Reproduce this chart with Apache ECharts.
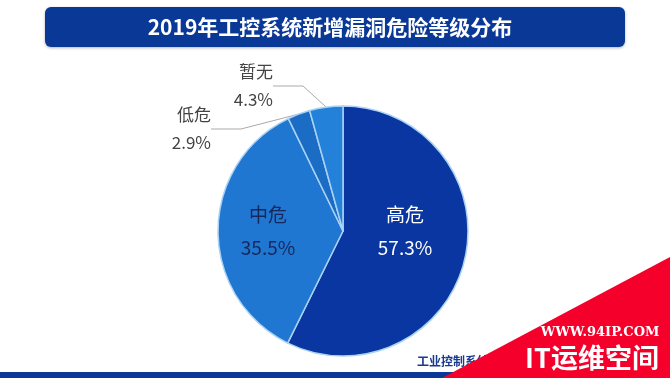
<!DOCTYPE html>
<html>
<head>
<meta charset="utf-8">
<script src="https://cdn.jsdelivr.net/npm/echarts@6/dist/echarts.min.js"></script>
<style>
  html, body { margin: 0; padding: 0; background: #fff; }
  #main { width: 670px; height: 378px; }
</style>
</head>
<body>
<div id="main"></div>
<script>
// 2019年工控系统新增漏洞危险等级分布
var levels = ['高危', '中危', '低危', '暂无'];
var shares = [57.3, 35.5, 2.9, 4.3];
var sliceColors = ['#0936a0', '#1f77d2', '#1b6cc4', '#2381d9'];

var chart = echarts.init(document.getElementById('main'));
var font = '"Noto Sans CJK SC", sans-serif';

var pieData = levels.map(function (name, i) {
    var item = { name: name, value: shares[i], itemStyle: { color: sliceColors[i] } };
    if (i == 0) {
        item.label = { position: 'inside', color: '#fff', fontSize: 19, lineHeight: 33 };
    } else if (i == 1) {
        item.label = { position: 'inside', color: '#16275a', fontSize: 19, lineHeight: 33 };
    } else {
        item.label = { position: 'outside', color: '#444', align: 'center', fontSize: 17, lineHeight: 28 };
    }
    return item;
});

var option = {
    backgroundColor: '#fff',
    graphic: [
        {
            type: 'rect',
            shape: { x: 45, y: 7, width: 580, height: 40, r: 6 },
            style: { fill: '#0a3896', shadowBlur: 3, shadowColor: 'rgba(0,0,0,0.3)', shadowOffsetY: 1 }
        },
        {
            type: 'text', x: 330, y: 27,
            style: { text: '2019年工控系统新增漏洞危险等级分布', fill: '#fff', font: 'bold 21px ' + font, align: 'center', verticalAlign: 'middle' }
        },
        {
            type: 'rect',
            shape: { x: 0, y: 372, width: 670, height: 6 },
            style: { fill: '#0a3896' }
        },
        {
            type: 'text', x: 417, y: 361,
            style: { text: '工业控制系统安全', fill: '#1a3a8c', font: 'bold 12px ' + font, verticalAlign: 'middle' }
        },
        {
            type: 'polygon',
            shape: { points: [[670, 257], [670, 378], [442, 378]] },
            style: { fill: '#f5002a' }
        },
        {
            type: 'text', x: 600, y: 333,
            style: { text: 'WWW.94IP.COM', fill: '#fff', font: 'bold 13px "DejaVu Serif", serif', align: 'center', verticalAlign: 'middle' }
        },
        {
            type: 'text', x: 592, y: 358,
            style: { text: 'IT运维空间', fill: '#fff', font: 'bold 27px ' + font, align: 'center', verticalAlign: 'middle' }
        }
    ],
    series: [
        {
            type: 'pie',
            center: [343, 231],
            radius: [0, 125],
            startAngle: 90,
            clockwise: true,
            animation: false,
            data: pieData,
            itemStyle: { borderColor: '#a9d2f5', borderWidth: 1.5 },
            label: {
                formatter: '{b}\n{c}%',
                fontFamily: font
            },
            labelLine: {
                show: true,
                length: 8,
                length2: 30,
                lineStyle: { color: '#aaa', width: 1 }
            },
            labelLayout: function (p) {
                if (p.dataIndex == 3) return { x: 273, y: 86 };
                if (p.dataIndex == 2) return { x: 211, y: 129 };
                if (p.dataIndex == 1) return { x: 268, y: 231 };
                if (p.dataIndex == 0) return { x: 405, y: 231 };
            }
        }
    ]
};
chart.setOption(option);
</script>
</body>
</html>
